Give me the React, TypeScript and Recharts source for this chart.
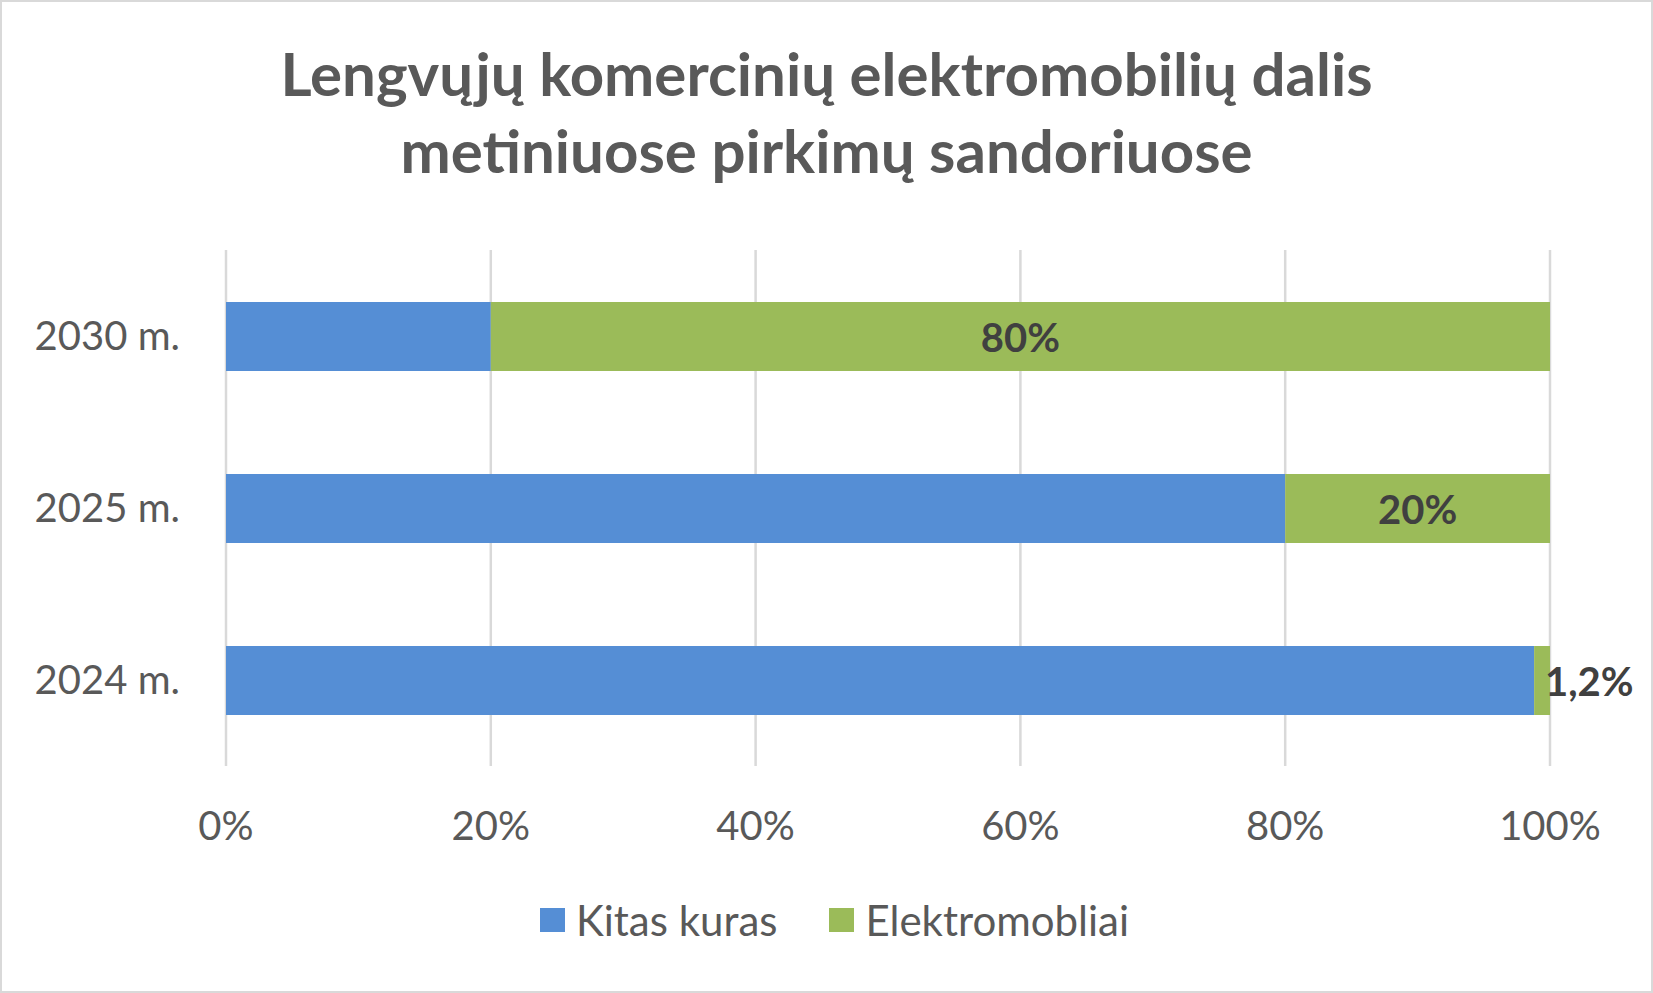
import { Bar, BarChart, CartesianGrid, LabelList, Legend, XAxis, YAxis } from "recharts";

const years = ["2024 m.", "2025 m.", "2030 m."];
const otherFuel = [0.988, 0.8, 0.2];
const electric = [0.012, 0.2, 0.8];
const xTicks = [0, 0.2, 0.4, 0.6, 0.8, 1];

const seriesNames = { other: "Kitas kuras", electric: "Elektromobliai" };
const colors = { other: "#558ED5", electric: "#9BBB59" };

const data = years.map((label, i) => ({
  label,
  other: otherFuel[i],
  electric: electric[i],
}));

const FONT = "Lato, 'Open Sans', sans-serif";

const pct = (v: number) => `${Math.round(v * 100)}%`;
const pctComma = (v: number) =>
  `${(Math.round(v * 1000) / 10).toString().replace(".", ",")}%`;

function ElectricLabel(props: any) {
  const { x, y, width, height, value } = props;
  const small = value < 0.05;
  return (
    <text
      x={small ? x + width - 5 : x + width / 2}
      y={y + height / 2 + 15}
      textAnchor={small ? "start" : "middle"}
      fill="#404040"
      fontFamily={FONT}
      fontWeight={700}
      fontSize={40}
    >
      {pctComma(value)}
    </text>
  );
}

function LegendContent() {
  const items = [
    { key: "other", label: seriesNames.other, color: colors.other },
    { key: "electric", label: seriesNames.electric, color: colors.electric },
  ];
  return (
    <div
      style={{
        display: "flex",
        justifyContent: "center",
        alignItems: "center",
        gap: 52,
        paddingLeft: 16,
        fontFamily: FONT,
        fontSize: 42,
        color: "#595959",
      }}
    >
      {items.map((it) => (
        <div key={it.key} style={{ display: "flex", alignItems: "center", gap: 11 }}>
          <span style={{ width: 25, height: 24, background: it.color, display: "inline-block" }} />
          <span>{it.label}</span>
        </div>
      ))}
    </div>
  );
}

export default function App() {
  return (
    <div
      style={{
        position: "absolute",
        left: 0,
        top: 0,
        width: 1653,
        height: 993,
        background: "#FFFFFF",
        overflow: "hidden",
      }}
    >
      <div
        style={{
          position: "absolute",
          left: 0,
          top: 35,
          width: 1653,
          textAlign: "center",
          fontFamily: FONT,
          fontWeight: 700,
          fontSize: 60,
          lineHeight: "77px",
          color: "#595959",
        }}
      >
        Lengvųjų komercinių elektromobilių dalis
        <br />
        metiniuose pirkimų sandoriuose
      </div>
      <BarChart
        width={1653}
        height={993}
        data={data}
        layout="vertical"
        margin={{ top: 250, right: 103, left: 0, bottom: 167 }}
        barSize={69}
      >
        <CartesianGrid horizontal={false} stroke="#D9D9D9" strokeWidth={2.5} />
        <XAxis
          type="number"
          domain={[0, 1]}
          ticks={xTicks}
          tickFormatter={pct}
          axisLine={false}
          tickLine={false}
          tickSize={0}
          tickMargin={46}
          height={60}
          tick={{ fill: "#595959", fontSize: 40, fontFamily: FONT }}
          interval={0}
        />
        <YAxis
          type="category"
          dataKey="label"
          reversed
          width={226}
          axisLine={false}
          tickLine={false}
          tickSize={0}
          tickMargin={46}
          tick={{ fill: "#595959", fontSize: 40, fontFamily: FONT }}
        />
        <Legend
          verticalAlign="middle"
          wrapperStyle={{ top: 895, left: 0, width: 1653 }}
          content={<LegendContent />}
        />
        <Bar dataKey="other" name={seriesNames.other} stackId="a" fill={colors.other} isAnimationActive={false} />
        <Bar dataKey="electric" name={seriesNames.electric} stackId="a" fill={colors.electric} isAnimationActive={false}>
          <LabelList dataKey="electric" content={<ElectricLabel />} />
        </Bar>
      </BarChart>
      <div
        style={{
          position: "absolute",
          inset: 0,
          border: "2px solid #D9D9D9",
          pointerEvents: "none",
        }}
      />
    </div>
  );
}
